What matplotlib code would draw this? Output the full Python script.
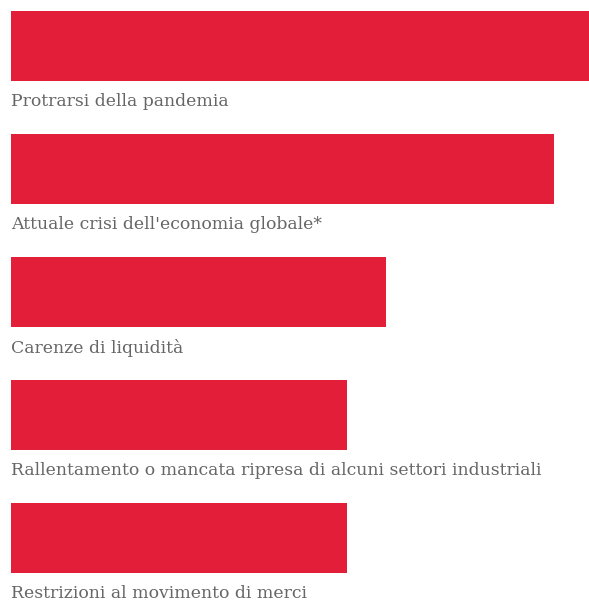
import matplotlib
matplotlib.use('Agg')
import matplotlib.pyplot as plt

# Data (relative bar lengths, longest = 100)
categories = [
    'Protrarsi della pandemia',
    "Attuale crisi dell'economia globale*",
    'Carenze di liquidità',
    'Rallentamento o mancata ripresa di alcuni settori industriali',
    'Restrizioni al movimento di merci',
]
values = [100, 94, 64.8, 58.2, 58.2]

bar_color = '#e31e38'
label_color = '#666666'
bar_h = 70 / 123

fig = plt.figure(figsize=(5.89, 6.0), dpi=100)
ax = fig.add_axes([11 / 589, 0, 578 / 589, 1])

y = list(range(len(categories)))
ax.barh(y, values, height=bar_h, color=bar_color, align='center')

# Labels below each bar
for i, cat in enumerate(categories):
    ax.annotate(cat, xy=(0, i + bar_h / 2), xytext=(0, -12), textcoords='offset pixels',
                ha='left', va='top', fontsize=12.45, color=label_color, family='DejaVu Serif')

ax.set_xlim(0, 100)
ax.set_ylim((600 - 46) / 123, -46 / 123)
ax.axis('off')

fig.savefig('out.png', dpi=100)
